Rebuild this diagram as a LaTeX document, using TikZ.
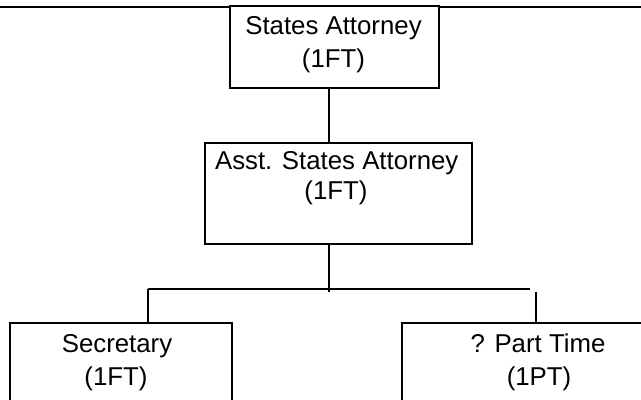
\documentclass[tikz,border=0pt]{standalone}
\usepackage{fontspec}
\setmainfont{Liberation Sans}

\begin{document}
\begin{tikzpicture}[x=0.5pt,y=-0.5pt,
  post/.style={draw,fill=white,line width=0.7pt,inner sep=0pt,outer sep=0pt},
  txt/.style={anchor=base,inner sep=0pt,font=\fontsize{12.9}{15}\selectfont},
  rule/.style={line width=0.7pt}]
\useasboundingbox (0,0) rectangle (641,400);
\clip (0,0) rectangle (641,400);

% page rule
\coordinate (edgeL) at (0,7);
\coordinate (edgeR) at (641,7);
\draw[rule] (edgeL) -- (edgeR);

% boxes
\node[post,minimum width=104.5pt,minimum height=41pt] (sa) at (334.5,47) {};
\node[post,minimum width=133.5pt,minimum height=50.5pt] (asa) at (338.5,193.5) {};
\node[post,minimum width=111pt,minimum height=50pt] (sec) at (121,373) {};
\node[post,minimum width=130pt,minimum height=50pt] (pt) at (532,373) {};

% texts
\node[txt] (sa-name) at (333.5,35) {States Attorney};
\node[txt] (sa-staff) at (333.5,68) {(1FT)};
\node[txt] (asa-name) at (336.7,170) {Asst. States Attorney};
\node[txt] (asa-staff) at (336,200) {(1FT)};
\node[txt] (sec-name) at (117,352) {Secretary};
\node[txt] (sec-staff) at (116,385) {(1FT)};
\node[txt] (pt-name) at (538,352) {? Part Time};
\node[txt] (pt-staff) at (539,385) {(1PT)};

% lines
\coordinate (trunk) at (329,292);
\coordinate (barL) at (148,289);
\coordinate (barR) at (530,289);
\coordinate (dropR) at (536,292);
\draw[rule] (sa.south -| trunk) -- (asa.north -| trunk);
\draw[rule] (asa.south -| trunk) -- (trunk);
\draw[rule] (barL) -- (barR);
\draw[rule] (barL) -- (barL |- sec.north);
\draw[rule] (dropR) -- (dropR |- pt.north);
\end{tikzpicture}
\end{document}
